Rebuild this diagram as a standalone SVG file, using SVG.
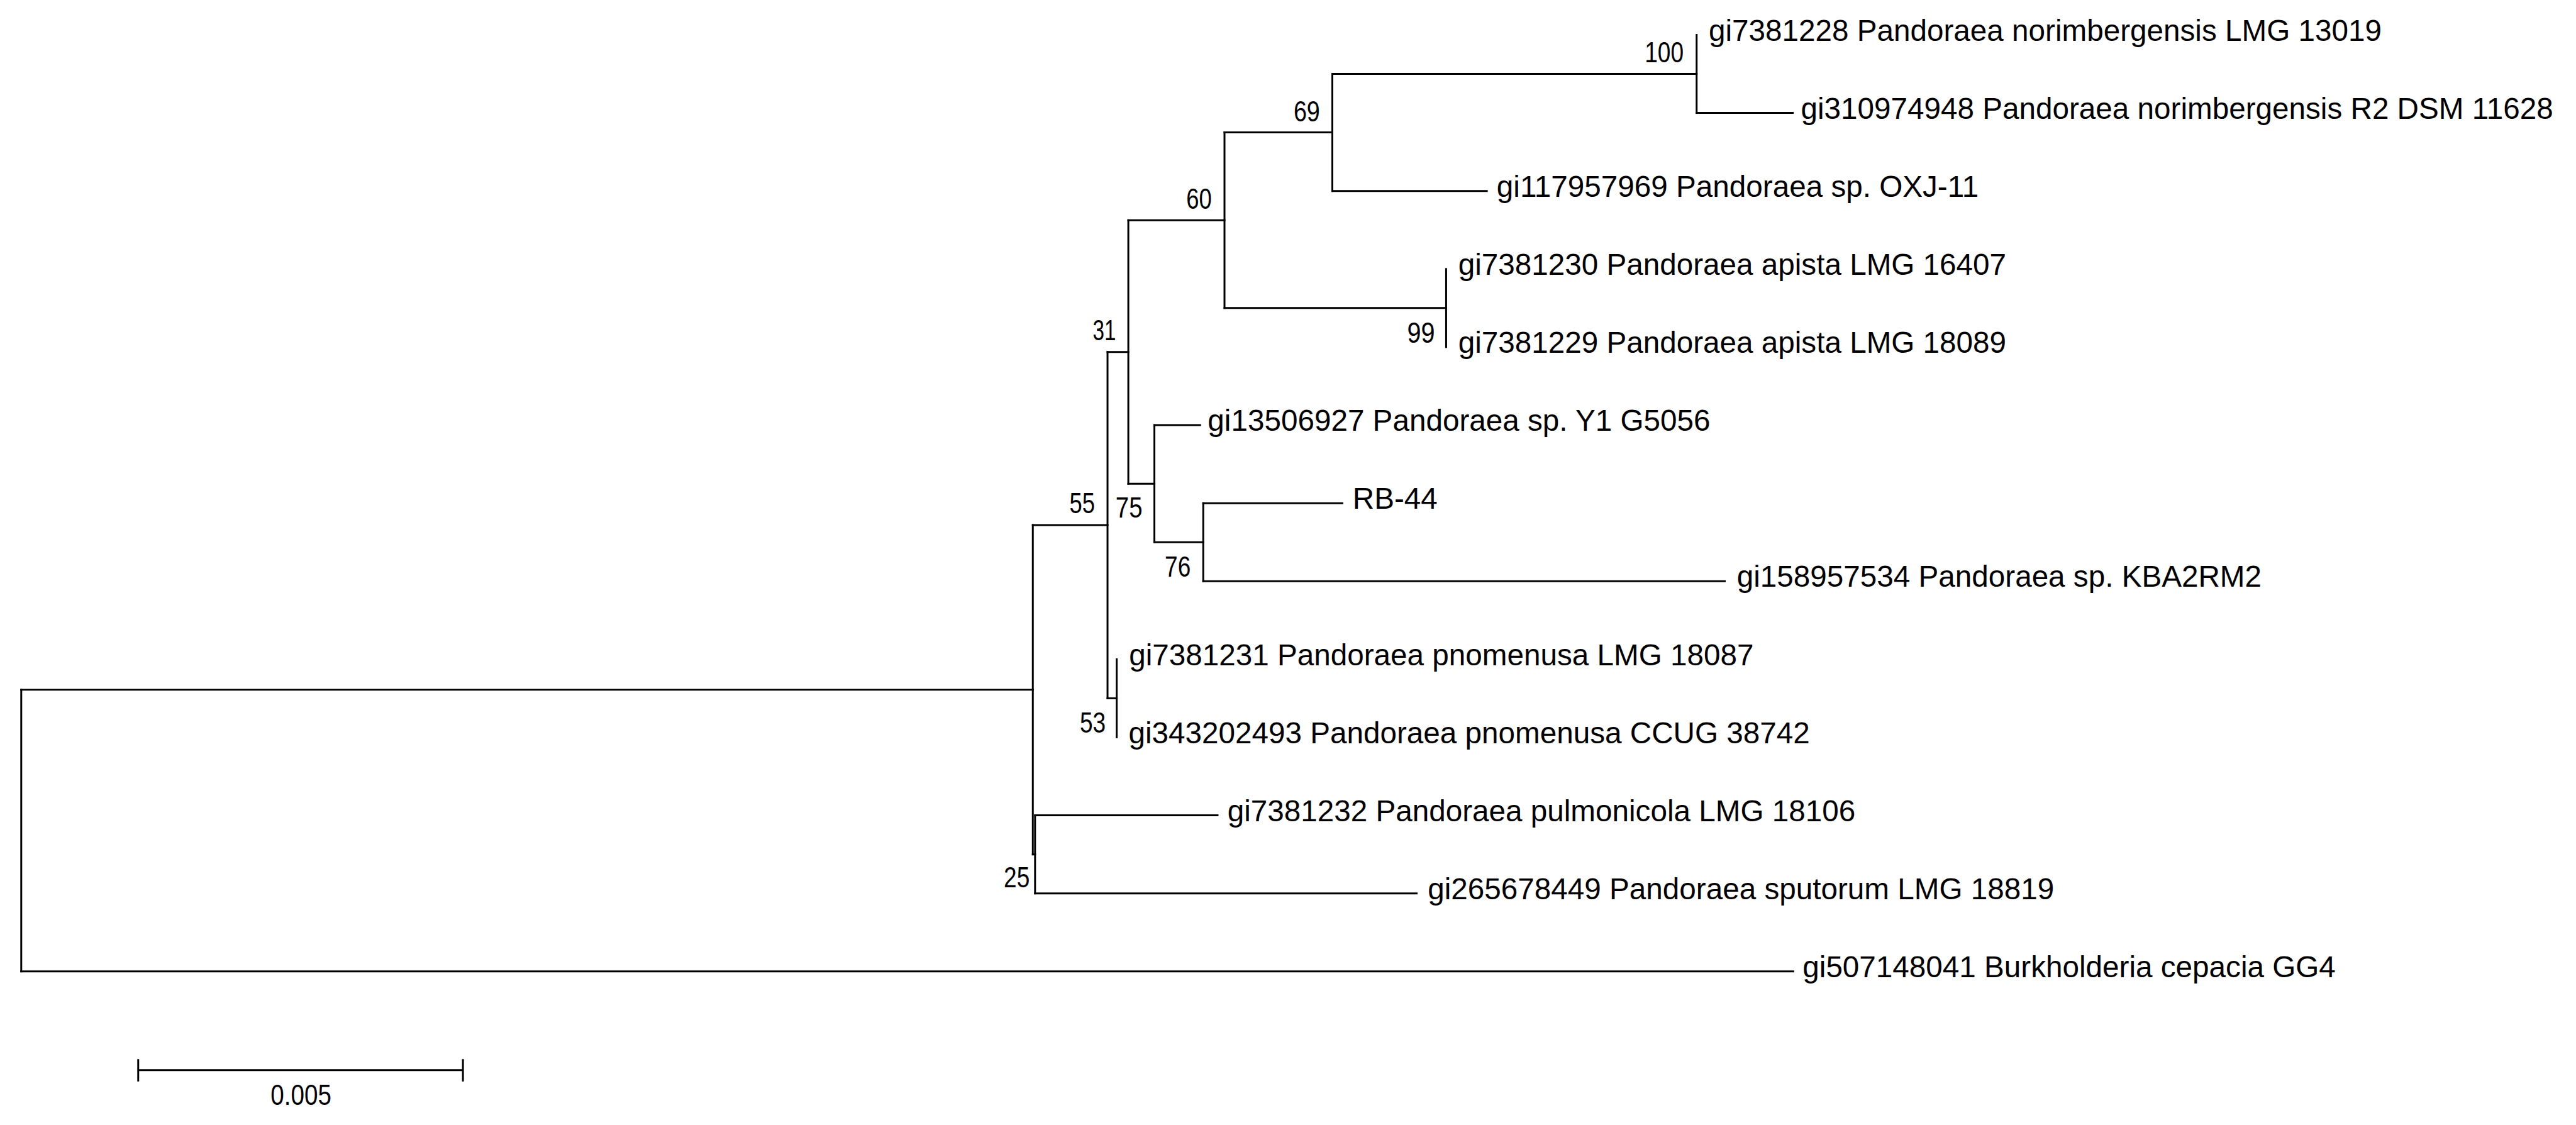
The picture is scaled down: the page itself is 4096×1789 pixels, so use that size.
<svg xmlns="http://www.w3.org/2000/svg" width="4096" height="1789" viewBox="0 0 4096 1789">
<style>
.br{fill:none;stroke:#000;stroke-width:4.2;stroke-linecap:square}
.leaf{font-family:"Liberation Sans",Arial,sans-serif;font-size:67px;fill:#000}
.bs{font-family:"Liberation Sans",Arial,sans-serif;font-size:65px;fill:#000}
</style>
<rect x="0" y="0" width="4096" height="1789" fill="#fff"/>
<g transform="scale(0.71124)">
<g id="connectors">
<path class="br" d="M47.5,1542.2 V2172"/>
<path class="br" d="M47.5,1542.2 H2309"/>
<path class="br" d="M47.5,2172 H4009"/>
<path class="br" d="M2309,1174.1 V1910.25"/>
<path class="br" d="M2309,1910.25 H2314"/>
<path class="br" d="M2314,1823 V1997.5"/>
<path class="br" d="M2314,1823 H2722"/>
<path class="br" d="M2314,1997.5 H3167"/>
<path class="br" d="M2309,1174.1 H2476"/>
<path class="br" d="M2476,786.9 V1561.25"/>
<path class="br" d="M2476,786.9 H2522.5"/>
<path class="br" d="M2476,1561.25 H2496.5"/>
<path class="br" d="M2496.5,1474 V1648.5"/>
<path class="br" d="M2522.5,492.4 V1081.4"/>
<path class="br" d="M2522.5,492.4 H2737.5"/>
<path class="br" d="M2522.5,1081.4 H2580.8"/>
<path class="br" d="M2580.8,950.5 V1212.25"/>
<path class="br" d="M2580.8,950.5 H2683"/>
<path class="br" d="M2580.8,1212.25 H2690"/>
<path class="br" d="M2690,1125 V1299.5"/>
<path class="br" d="M2690,1125 H3001"/>
<path class="br" d="M2690,1299.5 H3856"/>
<path class="br" d="M2737.5,296.1 V688.75"/>
<path class="br" d="M2737.5,296.1 H2978.6"/>
<path class="br" d="M2737.5,688.75 H3233"/>
<path class="br" d="M3233,601.5 V776"/>
<path class="br" d="M2978.6,165.25 V427"/>
<path class="br" d="M2978.6,165.25 H3793"/>
<path class="br" d="M2978.6,427 H3324"/>
<path class="br" d="M3793,78 V252.5"/>
<path class="br" d="M3793,252.5 H4008"/>
</g>
<g id="leaf-gi7381228"><text class="leaf" x="3820" y="91">gi7381228 Pandoraea norimbergensis LMG 13019</text></g>
<g id="leaf-gi310974948"><text class="leaf" x="4026" y="265.5">gi310974948 Pandoraea norimbergensis R2 DSM 11628</text></g>
<g id="leaf-gi117957969"><text class="leaf" x="3346" y="440">gi117957969 Pandoraea sp. OXJ-11</text></g>
<g id="leaf-gi7381230"><text class="leaf" x="3260" y="614.5">gi7381230 Pandoraea apista LMG 16407</text></g>
<g id="leaf-gi7381229"><text class="leaf" x="3260" y="789">gi7381229 Pandoraea apista LMG 18089</text></g>
<g id="leaf-gi13506927"><text class="leaf" x="2700" y="963.5">gi13506927 Pandoraea sp. Y1 G5056</text></g>
<g id="leaf-RB-44"><text class="leaf" x="3024" y="1138">RB-44</text></g>
<g id="leaf-gi158957534"><text class="leaf" x="3883" y="1312.5">gi158957534 Pandoraea sp. KBA2RM2</text></g>
<g id="leaf-gi7381231"><text class="leaf" x="2524" y="1487">gi7381231 Pandoraea pnomenusa LMG 18087</text></g>
<g id="leaf-gi343202493"><text class="leaf" x="2523" y="1661.5">gi343202493 Pandoraea pnomenusa CCUG 38742</text></g>
<g id="leaf-gi7381232"><text class="leaf" x="2744" y="1836">gi7381232 Pandoraea pulmonicola LMG 18106</text></g>
<g id="leaf-gi265678449"><text class="leaf" x="3192" y="2010.5">gi265678449 Pandoraea sputorum LMG 18819</text></g>
<g id="leaf-gi507148041"><text class="leaf" x="4030" y="2185">gi507148041 Burkholderia cepacia GG4</text></g>
<g id="node-100"><text class="bs" x="3677" y="139" textLength="87" lengthAdjust="spacingAndGlyphs">100</text></g>
<g id="node-69"><text class="bs" x="2892" y="271" textLength="59" lengthAdjust="spacingAndGlyphs">69</text></g>
<g id="node-60"><text class="bs" x="2652" y="467" textLength="57" lengthAdjust="spacingAndGlyphs">60</text></g>
<g id="node-31"><text class="bs" x="2443" y="761" textLength="52" lengthAdjust="spacingAndGlyphs">31</text></g>
<g id="node-99"><text class="bs" x="3146" y="766" textLength="62" lengthAdjust="spacingAndGlyphs">99</text></g>
<g id="node-55"><text class="bs" x="2391" y="1147" textLength="57" lengthAdjust="spacingAndGlyphs">55</text></g>
<g id="node-75"><text class="bs" x="2494" y="1157" textLength="60" lengthAdjust="spacingAndGlyphs">75</text></g>
<g id="node-76"><text class="bs" x="2604" y="1290" textLength="58" lengthAdjust="spacingAndGlyphs">76</text></g>
<g id="node-53"><text class="bs" x="2414" y="1638" textLength="58" lengthAdjust="spacingAndGlyphs">53</text></g>
<g id="node-25"><text class="bs" x="2244" y="1984" textLength="58" lengthAdjust="spacingAndGlyphs">25</text></g>
<g id="scale-bar">
<path class="br" d="M309,2392.6 H1035 M309,2370 V2416 M1035,2370 V2416" stroke-linecap="butt"/>
<text class="bs" x="605" y="2470" textLength="136" lengthAdjust="spacingAndGlyphs">0.005</text>
</g>
</g>
</svg>
